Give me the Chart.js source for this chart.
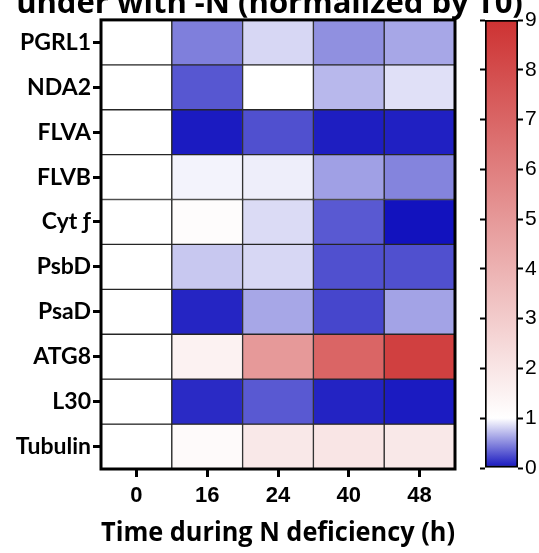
<!DOCTYPE html>
<html>
<head>
<meta charset="utf-8">
<script src="https://cdn.jsdelivr.net/npm/chart.js@4.4.1/dist/chart.umd.min.js"></script>
<style>
  body { margin: 0; background: #fff; overflow: hidden; width: 539px; height: 553px; }
  #main { position: absolute; left: 0; top: -40px; width: 539px; height: 593px; }
  #bar { position: absolute; left: 470px; top: 0; width: 69px; height: 553px; }
</style>
</head>
<body>
<div id="main"><canvas id="heatChart"></canvas></div>
<div id="bar"><canvas id="scaleChart"></canvas></div>
<script>
// rows and columns of the heatmap
const genes = ['PGRL1', 'NDA2', 'FLVA', 'FLVB', 'Cyt \u0192', 'PsbD', 'PsaD', 'ATG8', 'L30', 'Tubulin'];
const times = ['0', '16', '24', '40', '48'];

// fold change vs T0, one array per time point (same order as genes)
const t0  = [1, 1, 1, 1, 1, 1, 1, 1, 1, 1];
const t16 = [0.46, 0.29, 0.04, 0.95, 1.1, 0.77, 0.08, 1.5, 0.1, 1.2];
const t24 = [0.83, 1.0, 0.26, 0.93, 0.85, 0.83, 0.63, 5.0, 0.3, 1.9];
const t40 = [0.53, 0.7, 0.05, 0.6, 0.3, 0.26, 0.22, 7.0, 0.07, 2.0];
const t48 = [0.63, 0.87, 0.06, 0.48, 0.0, 0.26, 0.61, 8.45, 0.04, 1.9];
const columns = [t0, t16, t24, t40, t48];

// colour scale
const scaleTicks = [0, 1, 2, 3, 4, 5, 6, 7, 8, 9];
const stopValues = [0, 1, 9];
const stopColors = [[18, 18, 190], [255, 255, 255], [205, 50, 50]];

const labelFont = "Lato, 'Open Sans', sans-serif";
const digitFont = "'Liberation Sans', Arial, sans-serif";

function rgb(c) {
    return 'rgb(' + c.map(Math.round).join(',') + ')';
}

function colorFor(v) {
    for (var k = 0; k < stopValues.length - 1; k++) {
        if (v <= stopValues[k + 1] || k === stopValues.length - 2) {
            var f = (v - stopValues[k]) / (stopValues[k + 1] - stopValues[k]);
            f = Math.max(0, Math.min(1, f));
            const a = stopColors[k], b = stopColors[k + 1];
            return rgb([0, 1, 2].map(i => a[i] + (b[i] - a[i]) * f));
        }
    }
}

const heatData = {
    labels: times,
    datasets: genes.map((g, i) => ({
        label: g,
        data: times.map(() => [i, i + 1]),
        backgroundColor: columns.map(col => colorFor(col[i])),
        borderColor: '#262626',
        borderWidth: 1,
        borderSkipped: false,
        barPercentage: 1,
        categoryPercentage: 1,
        grouped: false
    }))
};

const framePlugin = {
    id: 'frame',
    afterDatasetsDraw(chart) {
        const a = chart.chartArea;
        const ctx = chart.ctx;
        ctx.save();
        ctx.lineWidth = 3;
        ctx.strokeStyle = '#000';
        ctx.strokeRect(a.left, a.top, a.right - a.left, a.bottom - a.top);
        ctx.restore();
    }
};

const heatChart = new Chart(document.getElementById('heatChart'), {
    type: 'bar',
    data: heatData,
    plugins: [framePlugin],
    options: {
        responsive: true,
        maintainAspectRatio: false,
        animation: false,
        layout: { padding: 0 },
        plugins: {
            legend: { display: false },
            tooltip: { enabled: false },
            title: {
                display: true,
                text: 'under with -N (normalized by T0)',
                color: '#000',
                font: { family: "'Open Sans', sans-serif", size: 31, weight: 'bold', lineHeight: 0.9 },
                padding: { top: 30, bottom: 2 }
            }
        },
        scales: {
            x: {
                type: 'category',
                offset: true,
                border: { display: false },
                grid: { offset: false, drawOnChartArea: false, drawTicks: true, tickLength: 8, tickWidth: 3, tickColor: '#000', lineWidth: 3 },
                ticks: { color: '#000', padding: 6, font: { family: digitFont, size: 22, weight: 'bold' } },
                title: {
                    display: true,
                    text: 'Time during N deficiency (h)',
                    color: '#000',
                    font: { family: "'Open Sans', sans-serif", size: 26, weight: 'bold' },
                    padding: { top: 0, bottom: 4 }
                },
                afterFit: s => { s.height = 84; }
            },
            y: {
                type: 'linear',
                min: 0,
                max: genes.length,
                reverse: true,
                border: { display: false },
                grid: { drawOnChartArea: false, drawTicks: true, tickLength: 8, tickWidth: 3, tickColor: '#000', lineWidth: 3 },
                afterBuildTicks: axis => { axis.ticks = genes.map((g, i) => ({ value: i + 0.5 })); },
                ticks: {
                    color: '#000',
                    padding: 2,
                    autoSkip: false,
                    font: { family: labelFont, size: 23, weight: 'bold' },
                    callback: (v, idx) => genes[idx]
                },
                afterFit: s => { s.width = 101; }
            },
            yr: {
                type: 'linear',
                position: 'right',
                display: true,
                ticks: { display: false },
                grid: { display: false },
                border: { display: false },
                afterFit: s => { s.width = 84; }
            }
        }
    }
});

// colour bar
const scaleChart = new Chart(document.getElementById('scaleChart'), {
    type: 'bar',
    data: {
        labels: [''],
        datasets: [{
            data: [[scaleTicks[0], scaleTicks[scaleTicks.length - 1]]],
            backgroundColor: ctx => {
                const chart = ctx.chart;
                if (!chart.chartArea) return '#fff';
                const ys = chart.scales.y;
                const lo = stopValues[0], hi = stopValues[stopValues.length - 1];
                const g = chart.ctx.createLinearGradient(0, ys.getPixelForValue(lo), 0, ys.getPixelForValue(hi));
                stopValues.forEach((v, k) => g.addColorStop((v - lo) / (hi - lo), rgb(stopColors[k])));
                return g;
            },
            borderColor: '#000',
            borderWidth: 2,
            borderSkipped: false,
            barPercentage: 1,
            categoryPercentage: 1
        }]
    },
    options: {
        responsive: true,
        maintainAspectRatio: false,
        animation: false,
        layout: { padding: { top: 20, bottom: 85, left: 0, right: 0 } },
        plugins: { legend: { display: false }, tooltip: { enabled: false } },
        scales: {
            x: { display: false },
            y: {
                type: 'linear',
                position: 'right',
                min: 0,
                max: 9,
                border: { display: false },
                grid: { drawOnChartArea: false, tickLength: 5, tickWidth: 2, tickColor: '#000' },
                ticks: { stepSize: 1, color: '#000', padding: 2, font: { family: digitFont, size: 21 } },
                afterFit: s => { s.width = 21; }
            },
            yl: {
                type: 'linear',
                position: 'left',
                min: 0,
                max: 9,
                border: { display: false },
                grid: { drawOnChartArea: false, tickLength: 5, tickWidth: 2, tickColor: '#000' },
                ticks: { stepSize: 1, display: false },
                afterFit: s => { s.width = 15; }
            }
        }
    }
});
</script>
</body>
</html>
